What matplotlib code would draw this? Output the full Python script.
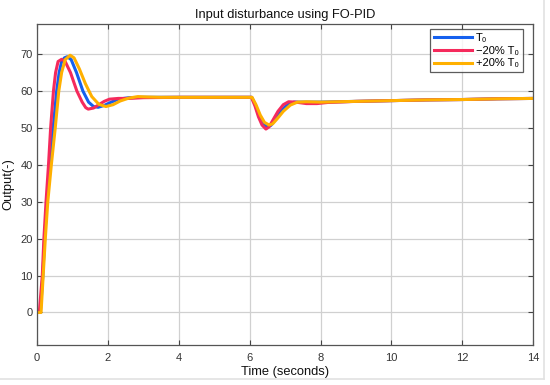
import matplotlib
matplotlib.use("Agg")
import matplotlib.pyplot as plt
from matplotlib.lines import Line2D

plt.rcParams['font.family'] = ['Liberation Sans', 'DejaVu Sans']

# T0 (nominal)
t_nom = [0, 0.10, 0.17, 0.22, 0.285, 0.37, 0.46, 0.56, 0.63, 0.70, 0.78, 0.86, 0.97,
         1.12, 1.30, 1.46, 1.60, 1.73, 1.90, 2.10, 2.30, 2.60, 3.00, 4.0, 5.0, 6.06,
         6.16, 6.27, 6.38, 6.50, 6.60, 6.72, 6.88, 7.05, 7.25, 7.60, 8.0, 9.0, 10.0,
         11.0, 12.0, 13.0, 14.0]
y_nom = [0, 0, 10, 20, 30, 40, 50, 60, 65, 68, 69.0, 69.3, 68.5,
         65, 60, 57, 55.8, 55.6, 56.1, 57.0, 57.8, 58.2, 58.3, 58.3, 58.3, 58.3,
         56.3, 53.2, 51.2, 50.3, 50.7, 52.2, 54.5, 56.2, 57.0, 57.0, 57.0, 57.2, 57.4,
         57.6, 57.7, 57.9, 58.0]

# -20% T0
t_m20 = [0, 0.07, 0.155, 0.20, 0.26, 0.33, 0.39, 0.47, 0.53, 0.60, 0.70, 0.80, 0.95,
         1.13, 1.28, 1.38, 1.45, 1.60, 1.75, 1.90, 2.05, 2.30, 2.60, 3.0, 4.0, 5.0,
         6.05, 6.15, 6.25, 6.35, 6.46, 6.55, 6.65, 6.80, 6.95, 7.10, 7.30, 7.60, 7.90,
         8.20, 9.0, 10.0, 11.0, 12.0, 13.0, 14.0]
y_m20 = [0, 0, 10, 20, 30, 40, 50, 60, 65, 68, 68.6, 68, 65,
         60, 57, 55.5, 55.1, 55.4, 56.3, 57.2, 57.8, 58.0, 58.0, 58.2, 58.3, 58.3,
         58.3, 56.0, 53.0, 50.8, 49.7, 50.3, 52.0, 54.5, 56.3, 57.1, 57.0, 56.6, 56.6,
         56.9, 57.2, 57.4, 57.6, 57.7, 57.9, 58.0]

# +20% T0
t_p20 = [0, 0.12, 0.18, 0.24, 0.31, 0.41, 0.52, 0.62, 0.70, 0.80, 0.94, 1.05, 1.20,
         1.37, 1.55, 1.75, 1.95, 2.15, 2.35, 2.60, 2.85, 3.10, 3.5, 4.0, 5.0, 6.07,
         6.18, 6.30, 6.42, 6.55, 6.65, 6.78, 6.95, 7.15, 7.35, 7.60, 8.0, 9.0, 10.0,
         11.0, 12.0, 13.0, 14.0]
y_p20 = [0, 0, 10, 20, 30, 40, 50, 60, 65, 68.5, 69.7, 69, 66,
         62, 58.5, 56.4, 55.8, 56.3, 57.3, 58.1, 58.5, 58.4, 58.3, 58.3, 58.3, 58.3,
         56.3, 53.5, 51.5, 50.8, 51.1, 52.5, 54.5, 56.2, 57.0, 57.1, 57.0, 57.2, 57.4,
         57.6, 57.7, 57.9, 58.0]

labels = ['T\u2080', '\u221220% T\u2080', '+20% T\u2080']
colors = ['#1560ee', '#f52a5c', '#ffb000']
x_ticks = [0, 2, 4, 6, 8, 10, 12, 14]
y_ticks = [0, 10, 20, 30, 40, 50, 60, 70]

fig = plt.figure(figsize=(5.5, 3.85), dpi=100)
ax = fig.add_axes([0.0669, 0.104, 0.9028, 0.834])

series = [(t_nom, y_nom), (t_m20, y_m20), (t_p20, y_p20)]
for (t, y), c, lab in zip(series, colors, labels):
    ax.plot(t, y, color=c, lw=2.2, label=lab, solid_joinstyle='round')

ax.set_xlim(0, 14)
ax.set_ylim(-8.8, 78.2)
ax.set_xticks(x_ticks)
ax.set_yticks(y_ticks)
ax.grid(True, color='#d0d0d0', lw=0.9)
ax.set_axisbelow(True)
ax.tick_params(direction='in', length=3.5, top=True, right=True, color='#444444',
               labelsize=8, labelcolor='#333333')
ax.tick_params(axis='y', pad=3)
ax.tick_params(axis='x', pad=6)
for s in ax.spines.values():
    s.set_color('#555555')
    s.set_linewidth(0.9)

ax.set_title('Input disturbance using FO-PID', fontsize=9.3, color='#111111', pad=4)
ax.set_xlabel('Time (seconds)', fontsize=9.3, color='#111111', labelpad=2)
ax.set_ylabel('Output(-)', fontsize=9.3, color='#111111')
ax.yaxis.set_label_coords(-0.046, 0.5)

leg = ax.legend(loc='upper right', fontsize=8, handlelength=3.4, frameon=True,
                fancybox=False, edgecolor='#333333', borderpad=0.35, labelspacing=0.25,
                handletextpad=0.4, borderaxespad=0, bbox_to_anchor=(0.979, 0.984))
leg.get_frame().set_linewidth(0.9)
for h in leg.get_lines():
    h.set_linewidth(2.2)

# faint screenshot frame
fig.add_artist(Line2D([0.989, 0.989], [0.015, 1.0], transform=fig.transFigure,
                      color='#e2e2e2', lw=1.2))
fig.add_artist(Line2D([0.0, 0.989], [0.015, 0.015], transform=fig.transFigure,
                      color='#e2e2e2', lw=1.2))

fig.savefig('out.png', dpi=100)
